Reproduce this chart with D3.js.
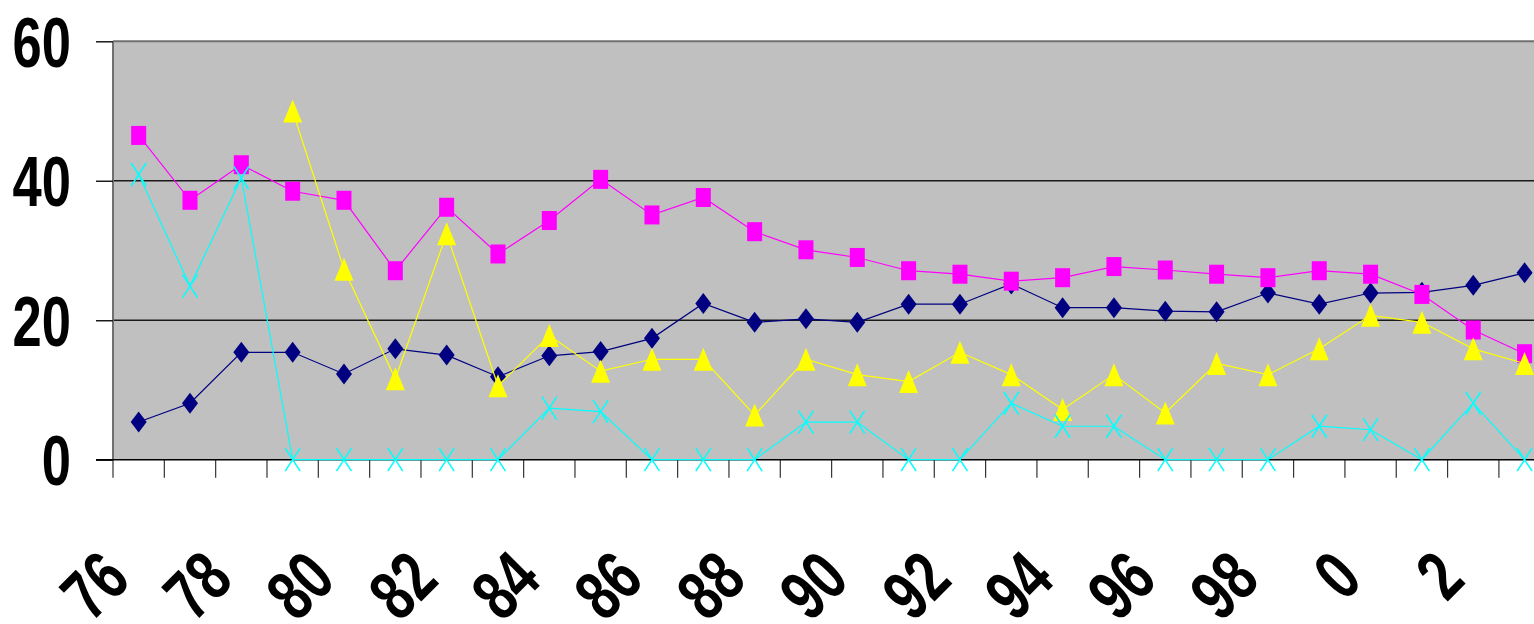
<!DOCTYPE html>
<html>
<head>
<meta charset="utf-8">
<script src="https://cdn.jsdelivr.net/npm/d3@7"></script>
<style>
  html, body { margin: 0; padding: 0; background: #fff; overflow: hidden; }
  svg { display: block; }
  text { font-family: "Liberation Sans", Arial, sans-serif; font-weight: bold; fill: #000; }
</style>
</head>
<body>
<svg id="chart" width="1534" height="624"></svg>
<script>
// ---- data ----
const categories = ["76","77","78","79","80","81","82","83","84","85","86","87","88","89",
                    "90","91","92","93","94","95","96","97","98","99","0","1","2","3"];
const tickLabels = ["76","78","80","82","84","86","88","90","92","94","96","98","0","2"];
const yTicks = [0, 20, 40, 60];

const seriesNavy = [5.4, 8.1, 15.4, 15.4, 12.3, 15.9, 15.0, 11.9, 14.9, 15.5, 17.4, 22.4, 19.7, 20.2,
                    19.7, 22.3, 22.3, 25.2, 21.8, 21.8, 21.3, 21.2, 23.9, 22.3, 23.9, 24.0, 25.0, 26.8];
const seriesMagenta = [46.5, 37.2, 42.3, 38.5, 37.2, 27.1, 36.2, 29.5, 34.3, 40.2, 35.1, 37.6, 32.7, 30.1,
                       29.0, 27.1, 26.6, 25.6, 26.1, 27.7, 27.2, 26.6, 26.1, 27.1, 26.6, 23.7, 18.6, 15.2];
const seriesYellow = [null, null, null, 50.0, 27.3, 11.6, 32.4, 10.6, 17.8, 12.7, 14.4, 14.4, 6.4, 14.4,
                      12.2, 11.2, 15.4, 12.2, 7.2, 12.2, 6.7, 13.8, 12.2, 15.9, 20.7, 19.7, 15.9, 13.8];
const seriesCyan = [40.9, 24.9, 40.4, 0, 0, 0, 0, 0, 7.4, 6.9, 0, 0, 0, 5.4,
                    5.4, 0, 0, 8.1, 4.8, 4.8, 0, 0, 0, 4.8, 4.3, 0, 8.1, 0];

// ---- layout ----
const svg = d3.select("#chart");
const plotLeft = 113, plotTop = 41.3, plotBottom = 459.7;
const band = 51.33;
const plotRight = plotLeft + band * categories.length;

const x = d3.scaleBand().domain(categories).range([plotLeft, plotRight]).padding(0);
const y = d3.scaleLinear().domain([0, 60]).range([plotBottom, plotTop]);
const cx = d => x(d) + x.bandwidth() / 2;

// plot background
svg.append("rect")
  .attr("x", plotLeft).attr("y", plotTop)
  .attr("width", plotRight - plotLeft).attr("height", plotBottom - plotTop)
  .attr("fill", "#C0C0C0");

// gridlines
svg.append("g").selectAll("line")
  .data(yTicks.filter(v => v > 0 && v < 60))
  .join("line")
  .attr("x1", plotLeft).attr("x2", plotRight)
  .attr("y1", d => y(d)).attr("y2", d => y(d))
  .attr("stroke", "#1a1a1a").attr("stroke-width", 1.5);

// top border & left border
svg.append("line").attr("x1", plotLeft).attr("x2", plotRight).attr("y1", y(60)).attr("y2", y(60))
  .attr("stroke", "#707070").attr("stroke-width", 2);
svg.append("line").attr("x1", plotLeft).attr("x2", plotLeft).attr("y1", plotTop).attr("y2", plotBottom)
  .attr("stroke", "#707070").attr("stroke-width", 2);

// y axis
const yAxis = d3.axisLeft(y).tickValues(yTicks).tickSize(17).tickPadding(0).tickFormat(d3.format("d"));
const yg = svg.append("g").attr("transform", `translate(${plotLeft},0)`).call(yAxis);
yg.select(".domain").remove();
yg.selectAll(".tick line").attr("stroke", "#1a1a1a").attr("stroke-width", 1.5);
yg.selectAll(".tick text")
  .attr("x", null).attr("dy", null)
  .attr("transform", "translate(-42,25) scale(0.74,1)")
  .attr("text-anchor", "end")
  .attr("fill", "#000")
  .style("font-size", "71px")
  .style("font-family", "'Liberation Sans', Arial, sans-serif")
  .style("font-weight", "bold");

// x axis ticks at category boundaries & axis line
const boundaries = categories.map(d => x(d)).concat([plotRight]);
svg.append("g").selectAll("line")
  .data(boundaries)
  .join("line")
  .attr("x1", d => d).attr("x2", d => d)
  .attr("y1", plotBottom).attr("y2", plotBottom + 18)
  .attr("stroke", "#333").attr("stroke-width", 1.2);
svg.append("line").attr("x1", plotLeft - 17).attr("x2", plotRight).attr("y1", plotBottom).attr("y2", plotBottom)
  .attr("stroke", "#000").attr("stroke-width", 1.5);

// x labels
const labelIdx = categories.map((c, i) => i).filter(i => i % 2 === 0);
svg.append("g").selectAll("text")
  .data(labelIdx)
  .join("text")
  .attr("text-anchor", "end")
  .attr("transform", i => `translate(${cx(categories[i]) - 6},582) rotate(-45) scale(0.74,1)`)
  .style("font-size", "71px")
  .text(i => tickLabels[i / 2]);

// ---- series ----
function drawLine(values, color) {
  const line = d3.line()
    .defined(d => d.v !== null)
    .x(d => cx(d.c)).y(d => y(d.v));
  const data = categories.map((c, i) => ({ c, v: values[i] }));
  svg.append("path").datum(data)
    .attr("d", line).attr("fill", "none")
    .attr("stroke", color).attr("stroke-width", 1.2);
  return data.filter(d => d.v !== null);
}

const navyPts = drawLine(seriesNavy, "#000080");
svg.append("g").selectAll("path").data(navyPts).join("path")
  .attr("d", d => { const px = cx(d.c), py = y(d.v);
    return `M${px},${py - 10.5}L${px + 8},${py}L${px},${py + 10.5}L${px - 8},${py}Z`; })
  .attr("fill", "#000080");

const magPts = drawLine(seriesMagenta, "#FF00FF");
svg.append("g").selectAll("rect").data(magPts).join("rect")
  .attr("x", d => cx(d.c) - 7.5).attr("y", d => y(d.v) - 9.5)
  .attr("width", 15).attr("height", 19)
  .attr("fill", "#FF00FF");

const yelPts = drawLine(seriesYellow, "#FFFF00");
svg.append("g").selectAll("path").data(yelPts).join("path")
  .attr("d", d => { const px = cx(d.c), py = y(d.v);
    return `M${px},${py - 11.5}L${px + 9.5},${py + 11.5}L${px - 9.5},${py + 11.5}Z`; })
  .attr("fill", "#FFFF00");

const cyPts = drawLine(seriesCyan, "#00FFFF");
svg.append("g").selectAll("path").data(cyPts).join("path")
  .attr("d", d => { const px = cx(d.c), py = y(d.v);
    return `M${px - 7.5},${py - 11.5}L${px + 7.5},${py + 11.5}M${px + 7.5},${py - 11.5}L${px - 7.5},${py + 11.5}`; })
  .attr("fill", "none").attr("stroke", "#00FFFF").attr("stroke-width", 1.5);
</script>
</body>
</html>
